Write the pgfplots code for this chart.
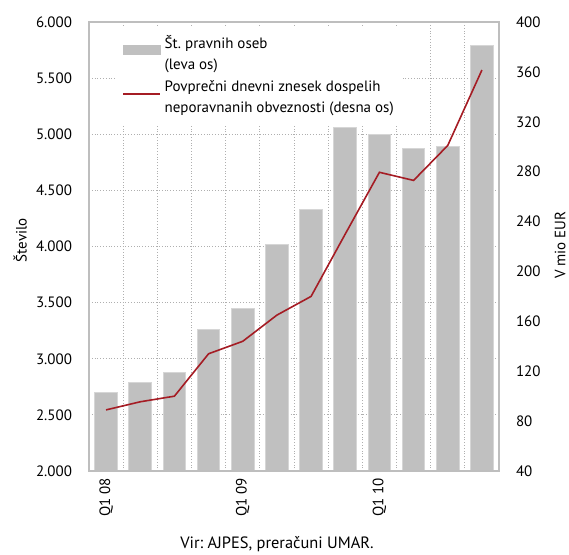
\documentclass[border=0pt]{standalone}
\usepackage{fontspec}
\setmainfont{PT Sans}
\usepackage{pgfplots}
\pgfplotsset{compat=1.18}
\definecolor{barcol}{RGB}{192,192,192}
\definecolor{barline}{RGB}{214,214,214}
\definecolor{linecol}{RGB}{165,28,36}
\definecolor{gridcol}{RGB}{175,175,175}
\definecolor{framecol}{RGB}{190,190,190}
\frenchspacing
\begin{document}
\begin{tikzpicture}[font=\fontsize{7.5}{10.5}\selectfont]
\path[use as bounding box] (-44.5pt,-41.5pt) rectangle (240pt,235.5pt);
\begin{axis}[
  at={(0,0)}, anchor=south west, scale only axis, width=205pt, height=224.5pt,
  xmin=-0.5, xmax=11.5, ymin=2000, ymax=6000,
  ytick={2000,2500,...,6000},
  xtick={0,4,8}, xticklabels={Q1 08,Q1 09,Q1 10},
  minor xtick={0.5,1.5,...,10.5},
  xminorgrids, ymajorgrids,
  grid style={gridcol, densely dotted, line width=0.4pt},
  minor grid style={gridcol, densely dotted, line width=0.4pt},
  major tick length=0pt, minor tick length=0pt,
  axis line style={framecol, line width=0.6pt},
  x tick label style={rotate=90, anchor=east},
  y tick label style={xshift=-5pt},
  /pgf/number format/.cd, 1000 sep={.}, assume math mode=true, /pgfplots/.cd,
  every axis y label/.style={at={(axis description cs:-0.168,0.514)}, rotate=90, anchor=center},
  ylabel={Število},
  clip=false,
]
\addplot[ybar, bar width=0.66, fill=barcol, draw=barline, line width=0.5pt] coordinates {
(0,2700) (1,2790) (2,2880) (3,3265) (4,3445) (5,4020) (6,4330) (7,5060) (8,5000) (9,4870) (10,4895) (11,5790)};
\draw[framecol, line width=1.2pt] (rel axis cs:0,1) -- (rel axis cs:0,0) -- (rel axis cs:1,0);
\end{axis}
\begin{axis}[
  at={(0,0)}, anchor=south west, scale only axis, width=205pt, height=224.5pt,
  xmin=-0.5, xmax=11.5, ymin=40, ymax=400,
  ytick={40,80,...,400},
  axis x line=none, axis y line*=right,
  axis line style={draw=none},
  major tick length=0pt,
  y tick label style={xshift=5pt},
  /pgf/number format/assume math mode=true,
  every axis y label/.style={at={(axis description cs:1.149,0.503)}, rotate=90, anchor=center},
  ylabel={V mio EUR},
  legend style={at={(axis description cs:0.066,0.988)}, anchor=north west, draw=none, fill=white,
    cells={align=left, anchor=west}, nodes={inner xsep=1.8pt}, font=\fontsize{7.5}{10.5}\selectfont, row sep=0pt},
  legend cell align=left,
]
\addlegendimage{legend image code/.code={\fill[barcol] (0pt,0pt) rectangle (18.5pt,4.5pt);}}
\addlegendentry{Št. pravnih oseb\\(leva os)}
\addplot[linecol, line width=0.8pt, legend image code/.code={\draw[linecol,line width=0.8pt] (0pt,2.25pt) -- (18.5pt,2.25pt);}] coordinates {
(0,89) (1,95.5) (2,100) (3,134) (4,144) (5,165) (6,180) (7,230) (8,279.5) (9,273) (10,301) (11,361.5)};
\addlegendentry{Povprečni dnevni znesek dospelih\\neporavnanih obveznosti (desna os)}
\end{axis}
\node[font=\fontsize{8.2}{10}\selectfont] at (94pt,-36.5pt) {Vir: AJPES, preračuni UMAR.};
\end{tikzpicture}
\end{document}
